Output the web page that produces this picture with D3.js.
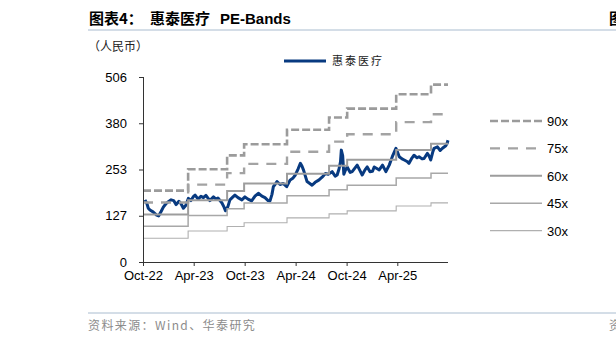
<!DOCTYPE html>
<html>
<head>
<meta charset="utf-8">
<script src="https://cdn.jsdelivr.net/npm/d3@7"></script>
<style>
  html, body { margin: 0; padding: 0; background: #fff; }
  svg { display: block; }
</style>
</head>
<body>
<div id="chart"></div>
<script>
  // 惠泰医疗 收盘价（人民币）
  const priceDates = [
    "2022-10-08","2022-10-15","2022-10-20","2022-10-26","2022-11-06","2022-11-19","2022-11-26",
    "2022-12-05","2022-12-13","2022-12-23","2022-12-31","2023-01-10","2023-01-19","2023-01-28",
    "2023-02-07","2023-02-14","2023-02-23","2023-03-04","2023-03-13","2023-03-22","2023-03-30",
    "2023-04-06","2023-04-17","2023-04-27","2023-05-06","2023-05-15","2023-05-29","2023-06-11",
    "2023-06-20","2023-06-27","2023-07-11","2023-07-19","2023-07-24","2023-08-02","2023-08-09",
    "2023-08-20","2023-08-27","2023-09-07","2023-09-21","2023-10-02","2023-10-13","2023-10-26",
    "2023-11-07","2023-11-19","2023-12-02","2023-12-13","2023-12-24","2023-12-31","2024-01-07",
    "2024-01-12","2024-01-18","2024-01-25","2024-02-05","2024-02-16","2024-02-29","2024-03-12",
    "2024-03-23","2024-03-31","2024-04-10","2024-04-18","2024-04-24","2024-04-30","2024-05-07",
    "2024-05-12","2024-05-23","2024-05-30","2024-06-10","2024-06-23","2024-07-05","2024-07-17",
    "2024-07-27","2024-08-10","2024-08-21","2024-08-28","2024-09-04","2024-09-09","2024-09-12",
    "2024-09-17","2024-09-21","2024-09-26","2024-10-03","2024-10-14","2024-10-21","2024-11-01",
    "2024-11-08","2024-11-18","2024-11-26","2024-12-06","2024-12-14","2024-12-24","2025-01-02",
    "2025-01-08","2025-01-19","2025-01-26","2025-02-07","2025-02-19","2025-03-03","2025-03-14",
    "2025-03-27","2025-04-02","2025-04-08","2025-04-18","2025-04-26","2025-05-06","2025-05-13",
    "2025-05-24","2025-05-31","2025-06-11","2025-06-18","2025-06-29","2025-07-06","2025-07-18",
    "2025-07-24","2025-07-30","2025-08-06","2025-08-11","2025-08-23","2025-09-02","2025-09-10",
    "2025-09-22","2025-09-27","2025-09-30"
  ];
  const priceValues = [
    170, 160, 147, 142, 137, 128, 126,
    138, 150, 160, 165, 170, 168, 157,
    166, 160, 147, 155, 174, 168, 178,
    183, 172, 180, 176, 182, 168, 178,
    172, 175, 162, 150, 140, 152, 170,
    178, 183, 176, 170, 178, 172, 167,
    180, 188, 180, 176, 168, 167, 185,
    206, 212, 220, 212, 215, 206, 224,
    230, 238, 255, 270, 262, 250, 232,
    220, 214, 210, 218, 224, 232, 242,
    240, 247, 235, 238, 255, 274, 306,
    290, 240, 250, 260, 245, 247, 258,
    265, 250, 238, 252, 260, 247, 248,
    260, 255, 252, 265, 247, 265, 288,
    311, 300, 288, 282, 279, 275, 270,
    285, 292, 285, 288, 282, 283, 297,
    290, 279, 300, 311, 315, 305, 311,
    318, 325, 333
  ];

  // 每股收益分段（PE-Bands 基准）
  const epsDates = ["2022-10-01","2023-03-12","2023-07-30","2023-09-29","2024-03-01",
                    "2024-07-30","2024-10-03","2025-03-28","2025-07-31","2025-09-30"];
  const epsValues = [2.17, 2.82, 3.24, 3.58, 4.02, 4.39, 4.66, 5.10, 5.39, 5.39];

  const bandMultiples = [90, 75, 60, 45, 30];
  const bandLabels = ["90x", "75x", "60x", "45x", "30x"];

  const yTicks = [0, 126.5, 253, 379.5, 506];
  const yTickLabels = ["0", "127", "253", "380", "506"];
  const xTicks = ["2022-10-01","2023-04-01","2023-10-01","2024-04-01","2024-10-01","2025-04-01"];
  const xTickLabels = ["Oct-22", "Apr-23", "Oct-23", "Apr-24", "Oct-24", "Apr-25"];

  const width = 616, height = 343;
  const parse = d3.timeParse("%Y-%m-%d");
  const latin = "'Liberation Sans', Arial, sans-serif";
  const cjk = "'Noto Sans CJK SC', sans-serif";

  // 线型
  const bandStyle = {
    90: { color: "#9b9b9b", w: 2.6, dash: "8,3" },
    75: { color: "#a3a3a3", w: 2.4, dash: "10,8" },
    60: { color: "#9d9d9d", w: 2, dash: null },
    45: { color: "#a8a8a8", w: 1.5, dash: null },
    30: { color: "#b0b0b0", w: 1.1, dash: null },
  };

  const svg = d3.select("#chart").append("svg")
    .attr("width", width).attr("height", height);

  // 标题
  const title = svg.append("text")
    .attr("y", 24)
    .style("font-family", cjk)
    .style("font-size", "15px")
    .style("font-weight", "bold")
    .style("fill", "#000");
  title.append("tspan").attr("x", 89).text("图表4：");
  title.append("tspan").attr("x", 150).text("惠泰医疗");
  title.append("tspan").attr("x", 220).style("font-family", latin).text("PE-Bands");

  // 右侧相邻图表残留
  svg.append("text").attr("x", 609).attr("y", 24)
    .style("font-family", cjk).style("font-size", "15px").style("font-weight", "bold")
    .text("图");

  svg.append("line").attr("x1", 88).attr("x2", width).attr("y1", 30).attr("y2", 30)
    .attr("stroke", "#a9bccf").attr("stroke-width", 1);

  svg.append("text").attr("x", 88).attr("y", 51)
    .style("font-family", cjk).style("font-size", "12px").style("fill", "#222")
    .text("（人民币）");

  // 比例尺
  const x = d3.scaleTime()
    .domain([parse("2022-10-01"), parse("2025-09-30")])
    .range([143, 448]);
  const y = d3.scaleLinear().domain([0, 506]).range([262, 77]);

  const price = priceDates.map((d, i) => ({ date: parse(d), v: priceValues[i] }));
  const eps = epsDates.map((d, i) => ({ date: parse(d), v: epsValues[i] }));

  // 股价
  const priceLine = d3.line().x(d => x(d.date)).y(d => y(d.v));
  svg.append("path").datum(price)
    .attr("d", priceLine)
    .attr("fill", "none")
    .attr("stroke", "#083a80")
    .attr("stroke-width", 3)
    .attr("stroke-linejoin", "round");

  // PE 带
  bandMultiples.forEach(m => {
    const s = bandStyle[m];
    const bandLine = d3.line()
      .curve(d3.curveStepAfter)
      .x(d => x(d.date))
      .y(d => y(d.v * m));
    svg.append("path").datum(eps)
      .attr("d", bandLine)
      .attr("fill", "none")
      .attr("stroke", s.color)
      .attr("stroke-width", s.w)
      .attr("stroke-dasharray", s.dash);
  });

  // 坐标轴
  const yAxis = svg.append("g").attr("transform", "translate(143,0)")
    .call(d3.axisLeft(y).tickValues(yTicks).tickSize(4).tickPadding(12)
      .tickFormat((d, i) => yTickLabels[i]));
  const xAxis = svg.append("g").attr("transform", "translate(0,262)")
    .call(d3.axisBottom(x).tickValues(xTicks.map(parse)).tickSize(4).tickPadding(5)
      .tickFormat((d, i) => xTickLabels[i]));
  [yAxis, xAxis].forEach(g => {
    g.select(".domain").attr("stroke", "#333");
    g.selectAll(".tick line").attr("stroke", "#333");
    g.selectAll("text").style("font-family", latin).style("font-size", "13px").style("fill", "#000");
  });
  xAxis.select(".domain").attr("d", "M143,0.5H448");
  yAxis.select(".domain").attr("d", "M0.5,77V262");

  // 图例：股价
  svg.append("line").attr("x1", 284).attr("x2", 326).attr("y1", 61).attr("y2", 61)
    .attr("stroke", "#083a80").attr("stroke-width", 3);
  svg.append("text").attr("x", 332).attr("y", 65)
    .style("font-family", cjk).style("font-size", "11px").style("letter-spacing", "2px")
    .style("fill", "#222")
    .text("惠泰医疗");

  // 图例：PE 带
  bandMultiples.forEach((m, i) => {
    const s = bandStyle[m];
    const ly = 121 + i * 27.4;
    svg.append("line").attr("x1", 490).attr("x2", 542).attr("y1", ly).attr("y2", ly)
      .attr("stroke", s.color).attr("stroke-width", s.w).attr("stroke-dasharray", s.dash);
    svg.append("text").attr("x", 547).attr("y", ly + 5)
      .style("font-family", latin).style("font-size", "13px").style("fill", "#000")
      .text(bandLabels[i]);
  });

  // 来源
  svg.append("line").attr("x1", 88).attr("x2", width).attr("y1", 313).attr("y2", 313)
    .attr("stroke", "#a9bccf").attr("stroke-width", 1);
  svg.append("text").attr("x", 88).attr("y", 330)
    .style("font-family", cjk).style("font-size", "12px").style("letter-spacing", "1.4px")
    .style("fill", "#8c8c8c")
    .text("资料来源：Wind、华泰研究");
  svg.append("text").attr("x", 609).attr("y", 330)
    .style("font-family", cjk).style("font-size", "12px").style("fill", "#8c8c8c")
    .text("资");
</script>
</body>
</html>
